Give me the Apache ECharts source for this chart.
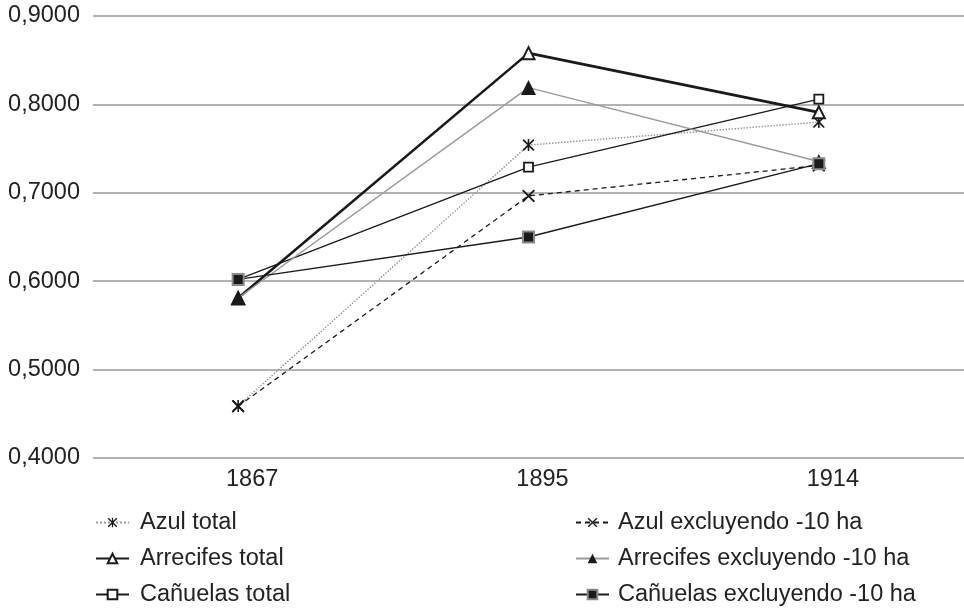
<!DOCTYPE html>
<html>
<head>
<meta charset="utf-8">
<script src="https://cdn.jsdelivr.net/npm/echarts@6/dist/echarts.min.js"></script>
<style>html,body{margin:0;padding:0;background:#fff}#c{width:964px;height:609px}</style>
</head>
<body>
<div id="c"></div>
<script>
const categories = ['1867', '1895', '1914'];
const azulTotal = [0.4588, 0.7540, 0.7800];
const azulExcl = [0.4585, 0.6965, 0.7310];
const arrecifesTotal = [0.5810, 0.8580, 0.7910];
const arrecifesExcl = [0.5810, 0.8190, 0.7355];
const canuelasTotal = [0.6020, 0.7290, 0.8060];
const canuelasExcl = [0.6020, 0.6500, 0.7330];
const yTicks = [0.4, 0.5, 0.6, 0.7, 0.8, 0.9];

const X_PATH = 'path://M0,1 L1,0 L5,4 L9,0 L10,1 L6,5 L10,9 L9,10 L5,6 L1,10 L0,9 L4,5 Z';
const STAR_PATH = 'path://M0,1 L1,0 L5,4 L9,0 L10,1 L6,5 L10,9 L9,10 L5,6 L1,10 L0,9 L4,5 Z M4.35,0 L5.65,0 L5.65,10 L4.35,10 Z';

const chart = echarts.init(document.getElementById('c'), null, {renderer: 'canvas'});
const font = 'Liberation Sans, Arial, Helvetica, sans-serif';
const legendText = {color: '#222', fontSize: 23.5, fontFamily: font, lineHeight: 25};
chart.setOption({
  animation: false,
  backgroundColor: '#fff',
  grid: {left: 93, right: 0, top: 16, bottom: 151},
  xAxis: {
    type: 'category', data: categories, boundaryGap: true,
    axisLine: {show: false}, axisTick: {show: false},
    axisLabel: {color: '#222', fontSize: 23.5, fontFamily: font, margin: 10, padding: [0, 0, 0, 28]},
    splitLine: {show: false}
  },
  yAxis: {
    type: 'value', min: yTicks[0], max: yTicks[yTicks.length - 1], interval: 0.1,
    axisLine: {show: false}, axisTick: {show: false},
    axisLabel: {color: '#222', fontSize: 23.5, fontFamily: font, margin: 13,
      formatter: v => v.toFixed(4).replace('.', ',')},
    splitLine: {lineStyle: {color: '#b3b3b3', width: 2}}
  },
  legend: [{
    orient: 'vertical', left: 95, top: 510, padding: 0, itemWidth: 33, itemHeight: 12, itemGap: 11,
    data: ['Azul total', 'Arrecifes total', 'Cañuelas total'],
    textStyle: Object.assign({padding: [0, 0, 0, 6]}, legendText)
  }, {
    orient: 'vertical', left: 575, top: 510, padding: 0, itemWidth: 33, itemHeight: 12, itemGap: 11,
    data: ['Azul excluyendo -10 ha', 'Arrecifes excluyendo -10 ha', 'Cañuelas excluyendo -10 ha'],
    textStyle: Object.assign({padding: [0, 0, 0, 4]}, legendText)
  }],
  series: [
    {name: 'Azul total', type: 'line', data: azulTotal, symbol: STAR_PATH, symbolSize: 12,
      lineStyle: {color: '#9a9a9a', width: 1.5, type: 'dotted'},
      itemStyle: {color: '#1a1a1a'}, z: 2},
    {name: 'Azul excluyendo -10 ha', type: 'line', data: azulExcl, symbol: X_PATH, symbolSize: 13,
      lineStyle: {color: '#1a1a1a', width: 1.3, type: [5, 4]},
      itemStyle: {color: '#1a1a1a'}, z: 2},
    {name: 'Arrecifes total', type: 'line', data: arrecifesTotal, symbol: 'triangle', symbolSize: 12,
      lineStyle: {color: '#1a1a1a', width: 2.6},
      itemStyle: {color: '#fff', borderColor: '#1a1a1a', borderWidth: 2}, z: 5},
    {name: 'Arrecifes excluyendo -10 ha', type: 'line', data: arrecifesExcl, symbol: 'triangle', symbolSize: 15,
      lineStyle: {color: '#9a9a9a', width: 1.5},
      itemStyle: {color: '#1a1a1a'}, z: 6},
    {name: 'Cañuelas total', type: 'line', data: canuelasTotal, symbol: 'rect', symbolSize: 9,
      lineStyle: {color: '#1a1a1a', width: 1.3},
      itemStyle: {color: '#fff', borderColor: '#1a1a1a', borderWidth: 1.8}, z: 4},
    {name: 'Cañuelas excluyendo -10 ha', type: 'line', data: canuelasExcl, symbol: 'rect', symbolSize: 11,
      lineStyle: {color: '#1a1a1a', width: 1.3},
      itemStyle: {color: '#1a1a1a', borderColor: '#8a8a8a', borderWidth: 2}, z: 7}
  ]
});
</script>
</body>
</html>
